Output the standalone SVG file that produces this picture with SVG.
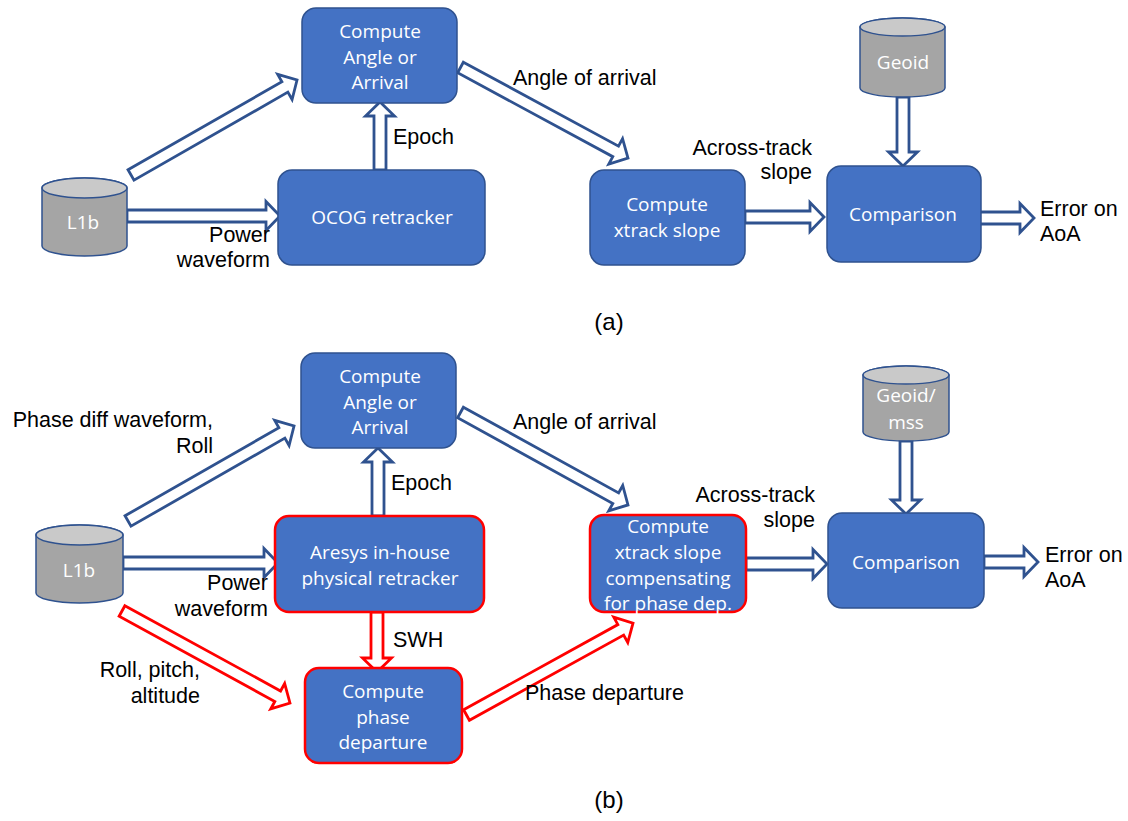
<svg xmlns="http://www.w3.org/2000/svg" width="1128" height="821" viewBox="0 0 1128 821">
<style>
.box{fill:#4472C4;stroke:#2F528F;stroke-width:1.5}
.rbox{fill:#4472C4;stroke:#FF0000;stroke-width:2.5}
.cyl{fill:#A5A5A5;stroke:#2F528F;stroke-width:1.5}
.cyltop{fill:#C9C9C9;stroke:#2F528F;stroke-width:1.5}
.bt{font-family:"Open Sans","Noto Sans",sans-serif;font-size:19px;fill:#FFFFFF;text-anchor:middle}
.lbl{font-family:"Liberation Sans",Arial,sans-serif;font-size:21.5px;fill:#000000}
.r{text-anchor:end}
.cap{font-family:"Liberation Sans",Arial,sans-serif;font-size:24px;fill:#000000;text-anchor:middle}
.arr{fill:#FFFFFF;stroke:#2F528F;stroke-width:2.8;stroke-linejoin:miter}
.rarr{fill:#FFFFFF;stroke:#FF0000;stroke-width:2.8;stroke-linejoin:miter}
</style>
<rect width="1128" height="821" fill="#FFFFFF"/>

<g id="connectors">
<path class="arr" transform="translate(127,216)" d="M0,-6H139V-14.5L153,0L139,14.5V6H0Z"/>
<path class="arr" transform="translate(131,175) rotate(-29.78)" d="M0,-6H177.3V-14.5L191.3,0L177.3,14.5V6H0Z"/>
<path class="arr" transform="translate(380,170) rotate(-90)" d="M0,-6H54V-14.5L68,0L54,14.5V6H0Z"/>
<path class="arr" transform="translate(460.5,67.5) rotate(28.4)" d="M0,-6H176.4V-14.5L190.4,0L176.4,14.5V6H0Z"/>
<path class="arr" transform="translate(745,217)" d="M0,-6H65V-14.5L79,0L65,14.5V6H0Z"/>
<path class="arr" transform="translate(903,97) rotate(90)" d="M0,-6H55V-14.5L69,0L55,14.5V6H0Z"/>
<path class="arr" transform="translate(979,218)" d="M0,-6H41V-14.5L55,0L41,14.5V6H0Z"/>

<path class="arr" transform="translate(123,563)" d="M0,-6H141V-14.5L155,0L141,14.5V6H0Z"/>
<path class="arr" transform="translate(128,521) rotate(-29.78)" d="M0,-6H177.3V-14.5L191.3,0L177.3,14.5V6H0Z"/>
<path class="arr" transform="translate(378,516) rotate(-90)" d="M0,-6H54V-14.5L68,0L54,14.5V6H0Z"/>
<path class="arr" transform="translate(460.5,412.5) rotate(28.9)" d="M0,-6H177.3V-14.5L191.3,0L177.3,14.5V6H0Z"/>
<path class="arr" transform="translate(746,564)" d="M0,-6H67V-14.5L81,0L67,14.5V6H0Z"/>
<path class="arr" transform="translate(906,441) rotate(90)" d="M0,-6H59V-14.5L73,0L59,14.5V6H0Z"/>
<path class="arr" transform="translate(984,562)" d="M0,-6H40V-14.5L54,0L40,14.5V6H0Z"/>
<path class="rarr" transform="translate(122,611) rotate(28.7)" d="M0,-6H177.5V-14.5L191.5,0L177.5,14.5V6H0Z"/>
<path class="rarr" transform="translate(377,612) rotate(90)" d="M0,-6H46V-14.5L60,0L46,14.5V6H0Z"/>
<path class="rarr" transform="translate(466.5,715) rotate(-28.9)" d="M0,-6H176.2V-14.5L190.2,0L176.2,14.5V6H0Z"/>
</g>

<!-- (a) -->
<g id="a-l1b">
<path class="cyl" d="M42,188A42.5,10 0 0 1 127,188V246A42.5,10 0 0 1 42,246Z"/>
<ellipse class="cyltop" cx="84.5" cy="188" rx="42.5" ry="10"/>
<text class="bt" x="83" y="229">L1b</text>
</g>
<g id="a-aoa">
<rect class="box" x="302" y="8" width="155" height="95" rx="14"/>
<text class="bt" x="380" y="38">Compute</text>
<text class="bt" x="380" y="64">Angle or</text>
<text class="bt" x="380" y="89">Arrival</text>
</g>
<g id="a-ocog">
<rect class="box" x="278" y="170" width="207" height="95" rx="14"/>
<text class="bt" x="382" y="224">OCOG retracker</text>
</g>
<g id="a-xtrack">
<rect class="box" x="590" y="170" width="155" height="95" rx="14"/>
<text class="bt" x="667" y="211">Compute</text>
<text class="bt" x="667" y="237">xtrack slope</text>
</g>
<g id="a-geoid">
<path class="cyl" d="M860,27A42.5,9 0 0 1 945,27V88A42.5,9 0 0 1 860,88Z"/>
<ellipse class="cyltop" cx="902.5" cy="27" rx="42.5" ry="9"/>
<text class="bt" x="903" y="69">Geoid</text>
</g>
<g id="a-comparison">
<rect class="box" x="827" y="166" width="154" height="96" rx="14"/>
<text class="bt" x="903" y="221">Comparison</text>
</g>
<g id="a-labels">
<text class="lbl" x="513" y="84.5">Angle of arrival</text>
<text class="lbl" x="393" y="144">Epoch</text>
<text class="lbl r" x="270" y="242">Power</text>
<text class="lbl r" x="270" y="267">waveform</text>
<text class="lbl r" x="812" y="155">Across-track</text>
<text class="lbl r" x="812" y="179">slope</text>
<text class="lbl" x="1040" y="216">Error on</text>
<text class="lbl" x="1040" y="241">AoA</text>
<text class="cap" x="609" y="330">(a)</text>
</g>

<!-- (b) -->
<g id="b-l1b">
<path class="cyl" d="M36,535A43.5,10 0 0 1 123,535V593A43.5,10 0 0 1 36,593Z"/>
<ellipse class="cyltop" cx="79.5" cy="535" rx="43.5" ry="10"/>
<text class="bt" x="79" y="577">L1b</text>
</g>
<g id="b-aoa">
<rect class="box" x="301" y="353" width="155" height="95" rx="14"/>
<text class="bt" x="380" y="383">Compute</text>
<text class="bt" x="380" y="409">Angle or</text>
<text class="bt" x="380" y="434">Arrival</text>
</g>
<g id="b-aresys">
<rect class="rbox" x="275" y="516" width="209" height="96" rx="14"/>
<text class="bt" x="380" y="559">Aresys in-house</text>
<text class="bt" x="380" y="585">physical retracker</text>
</g>
<g id="b-phasedep">
<rect class="rbox" x="305" y="668" width="157" height="95" rx="14"/>
<text class="bt" x="383" y="698">Compute</text>
<text class="bt" x="383" y="724">phase</text>
<text class="bt" x="383" y="749">departure</text>
</g>
<g id="b-xtrack">
<rect class="rbox" x="590" y="515" width="156" height="97" rx="14"/>
<text class="bt" x="668" y="533">Compute</text>
<text class="bt" x="668" y="559">xtrack slope</text>
<text class="bt" x="668" y="585">compensating</text>
<text class="bt" x="668" y="610">for phase dep.</text>
</g>
<g id="b-geoid">
<path class="cyl" d="M863,375A43,9 0 0 1 949,375V432A43,9 0 0 1 863,432Z"/>
<ellipse class="cyltop" cx="906" cy="375" rx="43" ry="9"/>
<text class="bt" x="906" y="402">Geoid/</text>
<text class="bt" x="906" y="429">mss</text>
</g>
<g id="b-comparison">
<rect class="box" x="828" y="513" width="156" height="95" rx="14"/>
<text class="bt" x="906" y="569">Comparison</text>
</g>
<g id="b-labels">
<text class="lbl r" x="213" y="427">Phase diff waveform,</text>
<text class="lbl r" x="213" y="453">Roll</text>
<text class="lbl" x="513" y="429">Angle of arrival</text>
<text class="lbl" x="391" y="490">Epoch</text>
<text class="lbl r" x="268" y="590">Power</text>
<text class="lbl r" x="268" y="616">waveform</text>
<text class="lbl" x="393" y="647">SWH</text>
<text class="lbl r" x="200" y="677">Roll, pitch,</text>
<text class="lbl r" x="200" y="703">altitude</text>
<text class="lbl" x="525" y="700">Phase departure</text>
<text class="lbl r" x="815" y="502">Across-track</text>
<text class="lbl r" x="815" y="527">slope</text>
<text class="lbl" x="1045" y="562">Error on</text>
<text class="lbl" x="1045" y="587">AoA</text>
<text class="cap" x="609" y="808">(b)</text>
</g>
</svg>
